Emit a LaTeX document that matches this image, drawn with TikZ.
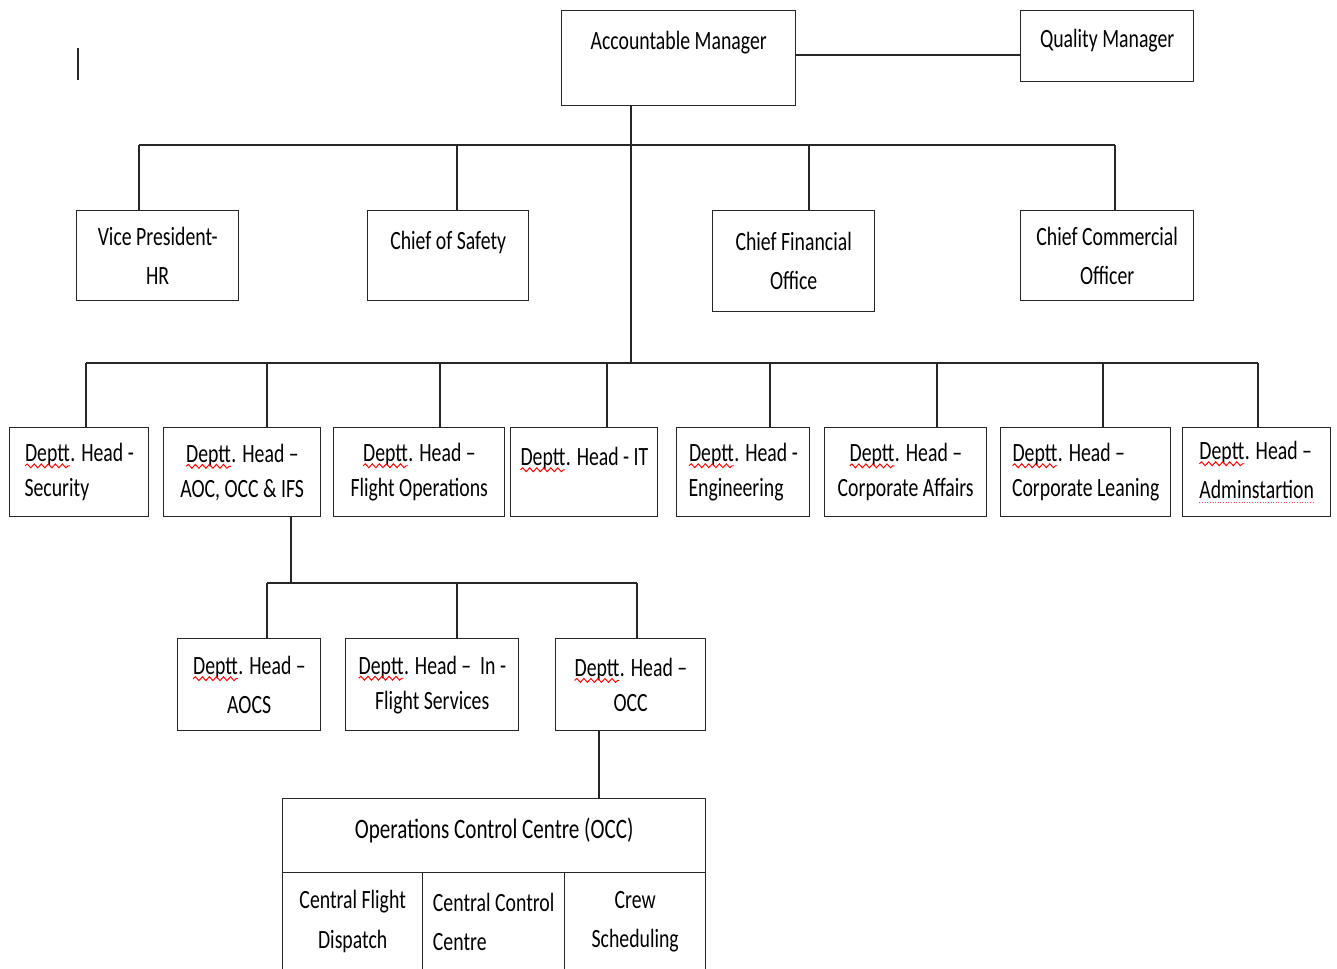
\documentclass[tikz,border=0pt]{standalone}
\usepackage{fontspec}
\setmainfont{Carlito}[FakeStretch=0.75]
\usetikzlibrary{decorations.pathmorphing}

% red spell-check marks under a word
\tikzset{word/.style={draw=none,minimum width=0pt,minimum height=0pt,inner sep=0pt,
    outer sep=0pt,anchor=base}}
\newcommand\spell[1]{\tikz[baseline=(w.base),x=1cm,y=1cm]{\node[word] (w) {#1};
    \draw[red,line width=0.55pt,decorate,decoration={snake,amplitude=1.1pt,segment length=4pt}]
    ([yshift=-2.4pt]w.base west) -- ([yshift=-2.4pt]w.base east);}}
\newcommand\spelldot[1]{\tikz[baseline=(w.base),x=1cm,y=1cm]{\node[word] (w) {#1};
    \draw[red!70,line width=0.5pt,densely dotted]
    ([yshift=-2.6pt]w.base west) -- ([yshift=-2.6pt]w.base east);}}

\begin{document}
\begin{tikzpicture}[x=0.02cm,y=-0.02cm,
    box/.style={draw=black!85,line width=0.8pt,anchor=north west,align=center,
      inner sep=2pt,font=\fontsize{15}{20}\selectfont},
    link/.style={draw=black!85,line width=0.7pt}]

    \clip (0,0) rectangle (1337,968);

    % the top
    \node[box,minimum width=4.68cm,minimum height=1.90cm] (am) at (561,10) {Accountable Manager\\[-6pt]\strut};
    \node[box,minimum width=3.46cm,minimum height=1.42cm] (qm) at (1020,10) {Quality Manager\\[-17pt]\strut};
    \draw[black!85,line width=0.6pt] (78,48) -- (78,80);

    % the chiefs
    \node[box,minimum width=3.24cm,minimum height=1.80cm] (vp) at (76,210) {Vice President-\\[2pt]HR};
    \node[box,minimum width=3.22cm,minimum height=1.80cm] (cos) at (367,210) {Chief of Safety\\[-9pt]\strut};
    \node[box,minimum width=3.24cm,minimum height=2.02cm] (cfo) at (712,210) {Chief Financial\\[2pt]Office};
    \node[box,minimum width=3.46cm,minimum height=1.80cm] (cco) at (1020,210) {Chief Commercial\\[2pt]Officer};

    % the department heads
    \node[box,align=left,minimum width=2.78cm,minimum height=1.78cm] (sec) at (9,427) {\spell{Deptt}. Head -\\Security};
    \node[box,minimum width=3.14cm,minimum height=1.78cm] (aoc) at (163,427) {\spell{Deptt}. Head --\\AOC, OCC \& IFS};
    \node[box,minimum width=3.42cm,minimum height=1.78cm] (fops) at (333,427) {\spell{Deptt}. Head --\\Flight Operations};
    \node[box,minimum width=2.94cm,minimum height=1.78cm] (it) at (510,427) {\spell{Deptt}. Head - IT\\[-8pt]\strut};
    \node[box,align=left,minimum width=2.66cm,minimum height=1.78cm] (eng) at (676,427) {\spell{Deptt}. Head -\\Engineering};
    \node[box,minimum width=3.24cm,minimum height=1.78cm] (caff) at (824,427) {\spell{Deptt}. Head --\\Corporate Affairs};
    \node[box,align=left,minimum width=3.40cm,minimum height=1.78cm] (clean) at (1000,427) {\spell{Deptt}. Head --\\Corporate Leaning};
    \node[box,align=left,minimum width=2.96cm,minimum height=1.78cm] (adm) at (1182,427) {\spell{Deptt}. Head --\\[2pt]\spelldot{Adminstartion}};

    % under AOC, OCC & IFS
    \node[box,minimum width=2.86cm,minimum height=1.84cm] (aocs) at (177,638) {\spell{Deptt}. Head --\\[2pt]AOCS};
    \node[box,minimum width=3.46cm,minimum height=1.84cm] (ifs) at (345,638) {\spell{Deptt}. Head --~ In -\\Flight Services};
    \node[box,minimum width=3.00cm,minimum height=1.84cm] (occ) at (555,638) {\spell{Deptt}. Head --\\OCC};

    % the OCC table
    \node[box,minimum width=8.46cm,minimum height=1.48cm,font=\fontsize{16}{20}\selectfont] (occh) at (282,798) {Operations Control Centre (OCC)\\[-17pt]\strut};
    \node[box,minimum width=2.80cm,minimum height=1.96cm,font=\fontsize{15}{22.5}\selectfont] (cfd) at (282,872) {Central Flight\\Dispatch};
    \node[box,align=left,minimum width=2.84cm,minimum height=1.96cm,font=\fontsize{15}{22.5}\selectfont] (ccc) at (422,872) {Central Control\\Centre};
    \node[box,minimum width=2.82cm,minimum height=1.96cm,font=\fontsize{15}{22.5}\selectfont] (crew) at (564,872) {Crew\\Scheduling};

    % the lines
    \coordinate (busA) at (631,145);
    \coordinate (busB) at (631,363);
    \coordinate (busC) at (291,583);

    \draw[link] (am.west |- 0,55) ++(4.68cm,0) coordinate (amq) -- (qm.west |- amq);
    \draw[link] (am.south -| busB) -- (busB);
    \draw[link] (busA -| 139,0) -- (busA -| 1115,0);
    \foreach \x/\n in {139/vp,457/cos,809/cfo,1115/cco}
      \draw[link] (busA -| \x,0) -- (\n.north -| \x,0);
    \draw[link] (busB -| 86,0) -- (busB -| 1258,0);
    \foreach \x/\n in {86/sec,267/aoc,440/fops,607/it,770/eng,937/caff,1103/clean,1258/adm}
      \draw[link] (busB -| \x,0) -- (\n.north -| \x,0);
    \draw[link] (aoc.south -| busC) -- (busC);
    \draw[link] (busC -| 267,0) -- (busC -| 637,0);
    \foreach \x/\n in {267/aocs,457/ifs,637/occ}
      \draw[link] (busC -| \x,0) -- (\n.north -| \x,0);
    \draw[link] (occ.south -| 599,0) -- (occh.north -| 599,0);
  \end{tikzpicture}
\end{document}
